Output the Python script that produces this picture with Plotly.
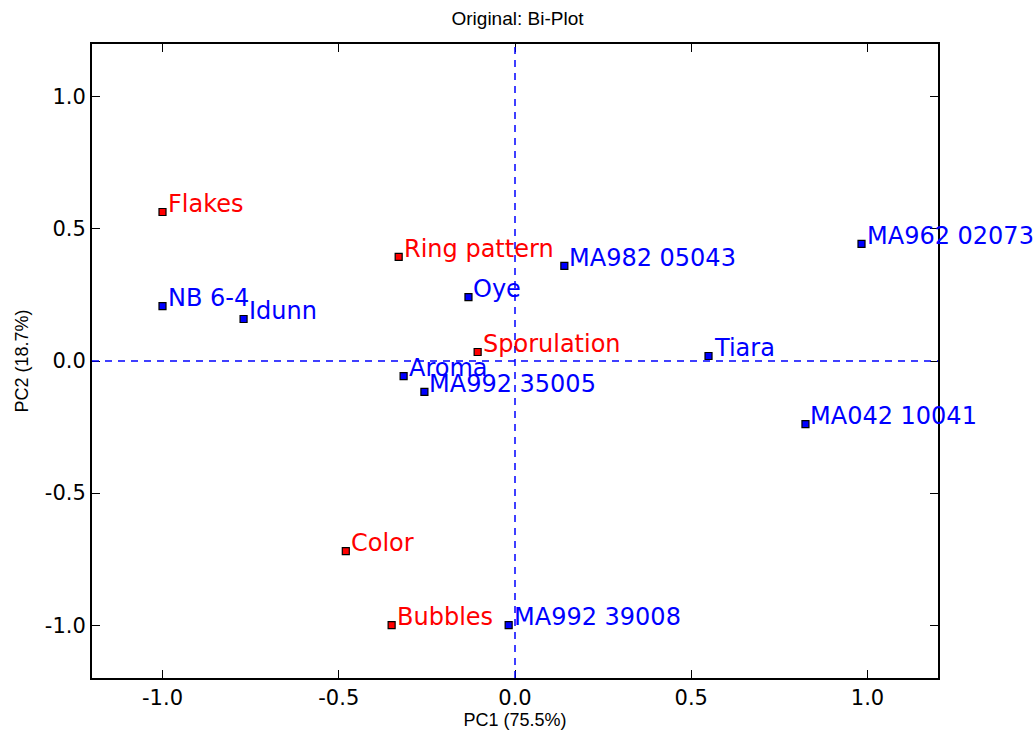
import plotly.graph_objects as go

attr_names = ["Flakes", "Ring pattern", "Sporulation", "Color", "Bubbles"]
attr_x = [-1.0, -0.33, -0.106, -0.48, -0.35]
attr_y = [0.564, 0.394, 0.034, -0.72, -1.0]

obj_names = ["NB 6-4", "Idunn", "Oye", "MA982 05043", "MA962 02073", "Tiara",
             "MA042 10041", "Aroma", "MA992 35005", "MA992 39008"]
obj_x = [-1.0, -0.77, -0.132, 0.14, 0.983, 0.549, 0.824, -0.316, -0.257, -0.018]
obj_y = [0.208, 0.159, 0.242, 0.36, 0.443, 0.019, -0.239, -0.057, -0.117, -1.0]

ticks = [-1.0, -0.5, 0.0, 0.5, 1.0]
tick_text = ["-1.0", "-0.5", "0.0", "0.5", "1.0"]

fig = go.Figure()

# reference dashed lines
fig.add_shape(type="line", x0=0, x1=0, y0=0, y1=1, xref="x", yref="paper",
              line=dict(color="#0000ff", width=1.5, dash="7px,6px"))
fig.add_shape(type="line", x0=0, x1=1, y0=0, y1=0, xref="paper", yref="y",
              line=dict(color="#0000ff", width=1.5, dash="7px,6px"))

fig.add_trace(go.Scatter(x=attr_x, y=attr_y, mode="markers",
                         marker=dict(symbol="square", size=7, color="#ff0000",
                                     line=dict(color="black", width=1.2)),
                         cliponaxis=False, showlegend=False))
fig.add_trace(go.Scatter(x=obj_x, y=obj_y, mode="markers",
                         marker=dict(symbol="square", size=7, color="#0000ff",
                                     line=dict(color="black", width=1.2)),
                         cliponaxis=False, showlegend=False))

for names, xs, ys, col in [(attr_names, attr_x, attr_y, "#ff0000"),
                           (obj_names, obj_x, obj_y, "#0000ff")]:
    for n, x, y in zip(names, xs, ys):
        fig.add_annotation(x=x, y=y, text=n, showarrow=False,
                           xanchor="left", yanchor="bottom",
                           xshift=3, yshift=-8,
                           font=dict(family="DejaVu Sans", size=24, color=col))

axis_common = dict(
    range=[-1.2, 1.2], tickvals=ticks, ticktext=tick_text,
    ticks="inside", ticklen=8, tickwidth=1, tickcolor="black",
    showline=True, linecolor="black", linewidth=2, mirror="ticks",
    showgrid=False, zeroline=False, automargin=False,
    tickfont=dict(family="DejaVu Sans", size=21, color="black"),
)

fig.update_layout(
    width=1035, height=733,
    margin=dict(l=92, r=97, t=44, b=55),
    paper_bgcolor="white", plot_bgcolor="white",
    title=dict(text="Original: Bi-Plot", x=0.5, xanchor="center",
               y=0.975, yanchor="middle",
               font=dict(family="Liberation Sans", size=19, color="black")),
    xaxis=dict(**axis_common,
               title=dict(text="PC1 (75.5%)", standoff=4,
                          font=dict(family="Liberation Sans", size=18, color="black"))),
    yaxis=dict(**axis_common,
               title=dict(text="PC2 (18.7%)", standoff=12,
                          font=dict(family="Liberation Sans", size=18, color="black"))),
)

fig.write_html("out.html")
